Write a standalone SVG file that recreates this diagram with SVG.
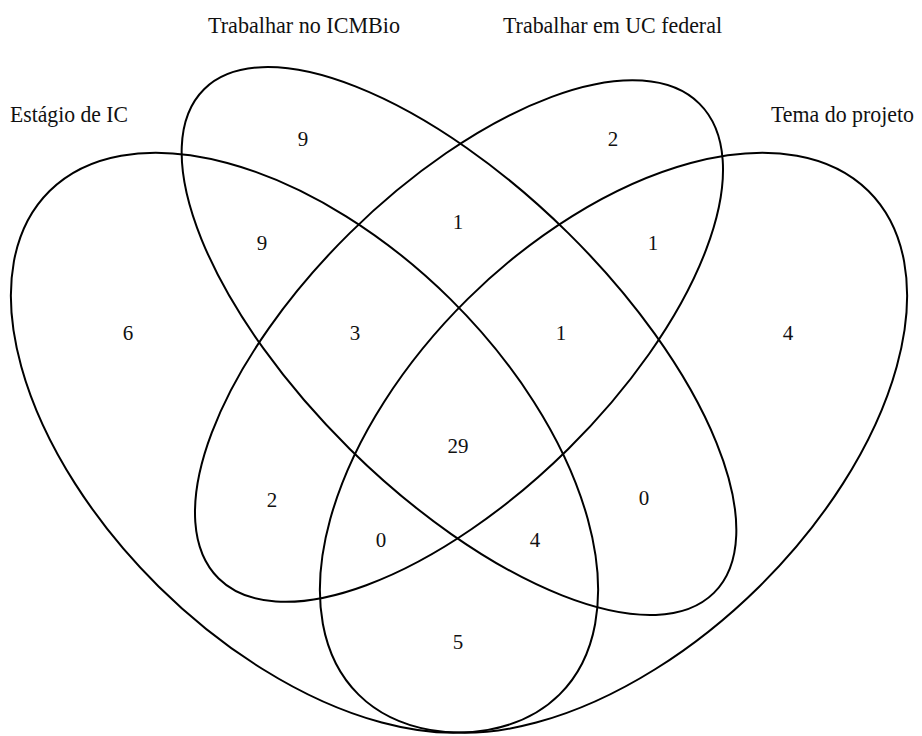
<svg xmlns="http://www.w3.org/2000/svg" width="922" height="736" viewBox="0 0 922 736">
<style>
  .set { fill: none; stroke: #000; stroke-width: 2; vector-effect: non-scaling-stroke; }
  .cat { font-family: "Liberation Serif", "Times New Roman", serif; font-size: 23px; fill: #111; }
  .num { font-family: "Liberation Serif", "Times New Roman", serif; font-size: 21px; fill: #111; text-anchor: middle; }
</style>
<rect width="922" height="736" fill="#fff"/>
<g id="sets" transform="matrix(1030 0 0 -1017.5 -56 921)">
  <g id="set-estagio"><ellipse class="set" cx="0" cy="0" rx="0.35" ry="0.2" transform="translate(0.35 0.47) rotate(-45)"/></g>
  <g id="set-icmbio"><ellipse class="set" cx="0" cy="0" rx="0.35" ry="0.15" transform="translate(0.5 0.57) rotate(-45)"/></g>
  <g id="set-uc"><ellipse class="set" cx="0" cy="0" rx="0.33" ry="0.15" transform="translate(0.5 0.57) rotate(45)"/></g>
  <g id="set-tema"><ellipse class="set" cx="0" cy="0" rx="0.35" ry="0.2" transform="translate(0.65 0.47) rotate(45)"/></g>
</g>
<g id="categories">
  <text class="cat" x="208" y="33" textLength="192" lengthAdjust="spacingAndGlyphs">Trabalhar no ICMBio</text>
  <text class="cat" x="503" y="33" textLength="219" lengthAdjust="spacingAndGlyphs">Trabalhar em UC federal</text>
  <text class="cat" x="10" y="122" textLength="118" lengthAdjust="spacingAndGlyphs">Estágio de IC</text>
  <text class="cat" x="771" y="122" textLength="143" lengthAdjust="spacingAndGlyphs">Tema do projeto</text>
</g>
<g id="counts">
  <text class="num" x="303" y="146">9</text>
  <text class="num" x="613" y="146">2</text>
  <text class="num" x="262" y="250">9</text>
  <text class="num" x="458" y="229">1</text>
  <text class="num" x="653" y="250">1</text>
  <text class="num" x="128" y="340">6</text>
  <text class="num" x="355" y="340">3</text>
  <text class="num" x="561" y="340">1</text>
  <text class="num" x="788" y="340">4</text>
  <text class="num" x="458" y="453">29</text>
  <text class="num" x="272" y="507">2</text>
  <text class="num" x="644" y="505">0</text>
  <text class="num" x="381" y="547">0</text>
  <text class="num" x="535" y="547">4</text>
  <text class="num" x="458" y="649">5</text>
</g>
</svg>
